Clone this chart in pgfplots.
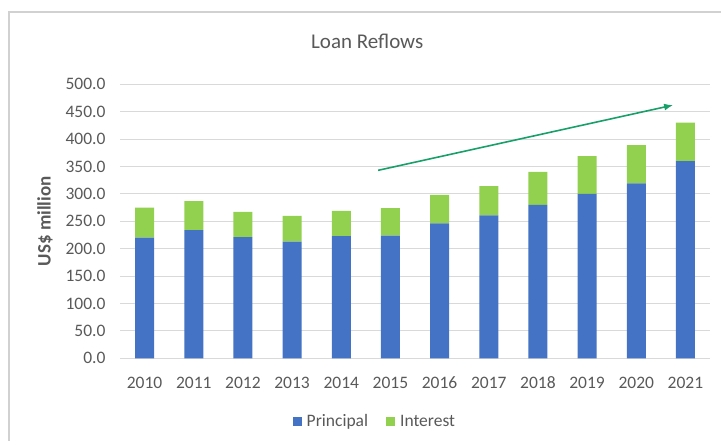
\documentclass[border=0pt]{standalone}
\usepackage{pgfplots}
\pgfplotsset{compat=1.18}
\usepackage{fontspec}
\setmainfont{Carlito}
\usetikzlibrary{arrows.meta}
\definecolor{pblue}{HTML}{4472C4}
\definecolor{igreen}{HTML}{92D050}
\definecolor{gridc}{HTML}{D9D9D9}
\definecolor{txt}{HTML}{595959}
\definecolor{arrowg}{HTML}{18A06A}
\begin{document}
\begin{tikzpicture}[x=1pt,y=1pt]
\path[use as bounding box] (0,0) rectangle (721,441);
\draw[black!18, line width=1.5pt] (9,0) -- (9,429) -- (721,429);
\begin{axis}[
  at={(120pt,82.7pt)}, anchor=south west,
  scale only axis, width=590pt, height=274pt,
  xmin=-0.5, xmax=11.5, ymin=0, ymax=500,
  ybar stacked, bar width=19pt,
  xtick={0,...,11},
  xticklabels={2010,2011,2012,2013,2014,2015,2016,2017,2018,2019,2020,2021},
  ytick distance=50,
  yticklabel={\pgfmathprintnumber[fixed,fixed zerofill,precision=1]{\tick}},
  ymajorgrids, grid style={gridc, line width=1pt},
  axis line style={draw=none},
  major tick style={draw=none},
  ticklabel style={font=\fontsize{17.5}{20}\selectfont, text=txt},
  /pgf/number format/assume math mode=true,
  yticklabel style={xshift=-11pt},
  xticklabel style={anchor=north, text height=12pt, text depth=0pt, inner sep=0pt, yshift=-18pt},
  ylabel={\textbf{US\$ million}},
  ylabel style={at={(axis description cs:-0.127,0.5)}, anchor=center, font=\fontsize{19}{22}\selectfont, text=txt},
  title={Loan Reflows},
  title style={at={(axis description cs:0.419,1.135)}, anchor=center, font=\fontsize{21}{24}\selectfont, text=txt},
  legend style={at={(axis description cs:0.432,-0.231)}, anchor=center, legend columns=2, draw=none, font=\fontsize{17.5}{20}\selectfont, text=txt, /tikz/every odd column/.append style={column sep=3pt}, /tikz/every even column/.append style={column sep=16pt}},
  legend image code/.code={\fill[#1] (0pt,-4pt) rectangle (9pt,5pt);},
]
\addplot[fill=pblue, draw=none] coordinates {(0,220) (1,234) (2,221) (3,213) (4,223) (5,224) (6,246) (7,261) (8,280) (9,300) (10,319) (11,360)};
\addplot[fill=igreen, draw=none] coordinates {(0,55) (1,53) (2,46) (3,47) (4,46) (5,50) (6,52) (7,53) (8,60) (9,69) (10,70) (11,70)};
\legend{Principal, Interest}
\end{axis}
\begin{axis}[
  at={(120pt,82.7pt)}, anchor=south west,
  scale only axis, width=590pt, height=274pt,
  xmin=-0.5, xmax=11.5, ymin=0, ymax=500, hide axis,
]
\addplot[arrowg, line width=1.6pt, -{Latex[length=9pt,width=7pt]}] coordinates {(4.75,343) (10.75,462)};
\end{axis}
\end{tikzpicture}
\end{document}
